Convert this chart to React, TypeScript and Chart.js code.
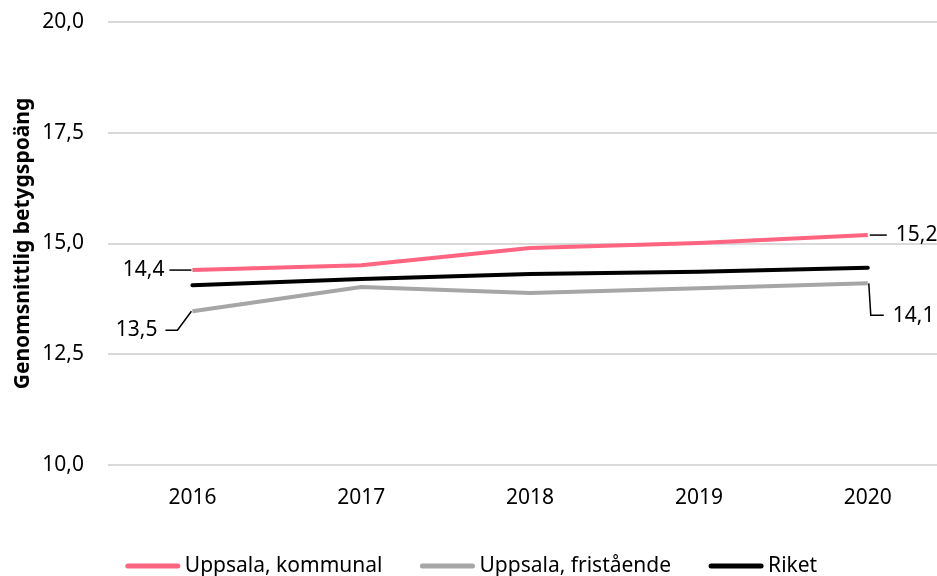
import React, { useEffect, useRef } from "react";
import { Chart, registerables } from "chart.js";

Chart.register(...registerables);

const years = [2016, 2017, 2018, 2019, 2020];
const kommunal = [14.4, 14.51, 14.9, 15.01, 15.19];
const fristaende = [13.47, 14.02, 13.88, 13.99, 14.1];
const riket = [14.06, 14.2, 14.31, 14.36, 14.45];
const seriesNames = ["Uppsala, kommunal", "Uppsala, fristående", "Riket"];
const seriesColors = ["#FF6480", "#A6A6A6", "#000000"];
const yTicks = [10, 12.5, 15, 17.5, 20];
const yTitle = "Genomsnittlig betygspoäng";

const FONT = "'Noto Sans', sans-serif";
const FS = 21;
const fmt = (v: number) => v.toFixed(1).replace(".", ",");

const gridPlugin = {
  id: "fullGrid",
  beforeDatasetsDraw(chart: any) {
    const ctx = chart.ctx;
    const ys = chart.scales.y;
    const left = chart.chartArea.left;
    ctx.save();
    ctx.strokeStyle = "#D9D9D9";
    ctx.lineWidth = 2;
    yTicks.forEach((v) => {
      const py = Math.round(ys.getPixelForValue(v));
      ctx.beginPath();
      ctx.moveTo(left, py);
      ctx.lineTo(chart.width, py);
      ctx.stroke();
    });
    ctx.restore();
  },
};

const labelPlugin = {
  id: "endLabels",
  afterDatasetsDraw(chart: any) {
    const ctx = chart.ctx;
    ctx.save();
    ctx.font = `${FS}px ${FONT}`;
    ctx.fillStyle = "#000";
    ctx.strokeStyle = "#000";
    ctx.lineWidth = 1.5;
    ctx.textBaseline = "middle";
    const m0 = chart.getDatasetMeta(0).data;
    const m1 = chart.getDatasetMeta(1).data;
    const last = years.length - 1;
    {
      const p = m0[0];
      ctx.beginPath();
      ctx.moveTo(p.x - 23, p.y);
      ctx.lineTo(p.x - 1, p.y);
      ctx.stroke();
      ctx.textAlign = "right";
      ctx.fillText(fmt(kommunal[0]), p.x - 28, p.y);
    }
    {
      const p = m1[0];
      ctx.beginPath();
      ctx.moveTo(p.x - 1, p.y);
      ctx.lineTo(p.x - 15, p.y + 19);
      ctx.lineTo(p.x - 27, p.y + 19);
      ctx.stroke();
      ctx.textAlign = "right";
      ctx.fillText(fmt(fristaende[0]), p.x - 35, p.y + 19);
    }
    {
      const p = m0[last];
      ctx.beginPath();
      ctx.moveTo(p.x + 2, p.y);
      ctx.lineTo(p.x + 19, p.y);
      ctx.stroke();
      ctx.textAlign = "left";
      ctx.fillText(fmt(kommunal[last]), p.x + 28, p.y);
    }
    {
      const p = m1[last];
      ctx.beginPath();
      ctx.moveTo(p.x + 1, p.y);
      ctx.lineTo(p.x + 3, p.y + 32);
      ctx.lineTo(p.x + 16, p.y + 32);
      ctx.stroke();
      ctx.textAlign = "left";
      ctx.fillText(fmt(fristaende[last]), p.x + 25, p.y + 33);
    }
    ctx.restore();
  },
};

const legendPlugin = {
  id: "customLegend",
  afterDraw(chart: any) {
    const ctx = chart.ctx;
    ctx.save();
    ctx.font = `${FS}px ${FONT}`;
    const sw = 54;
    const gapText = 5;
    const gapItem = 38;
    const widths = seriesNames.map((n) => sw + gapText + ctx.measureText(n).width);
    const total = widths.reduce((a, b) => a + b, 0) + gapItem * (widths.length - 1);
    let x = chart.width / 2 + 3 - total / 2;
    const y = 566;
    seriesNames.forEach((n, i) => {
      ctx.strokeStyle = seriesColors[i];
      ctx.lineWidth = 5;
      ctx.lineCap = "round";
      ctx.beginPath();
      ctx.moveTo(x + 2, y);
      ctx.lineTo(x + sw - 2, y);
      ctx.stroke();
      ctx.fillStyle = "#000";
      ctx.textAlign = "left";
      ctx.textBaseline = "middle";
      ctx.fillText(n, x + sw + gapText, y);
      x += widths[i] + gapItem;
    });
    ctx.restore();
  },
};

export default function App() {
  const ref = useRef<HTMLCanvasElement>(null);
  useEffect(() => {
    if (!ref.current) return;
    const mk = (vals: number[]) => years.map((y, i) => ({ x: y, y: vals[i] }));
    const chart = new Chart(ref.current, {
      type: "line",
      data: {
        datasets: [kommunal, fristaende, riket].map((vals, i) => ({
          label: seriesNames[i],
          data: mk(vals),
          borderColor: seriesColors[i],
          backgroundColor: seriesColors[i],
          borderWidth: 4,
          pointRadius: 0,
          borderCapStyle: i === 2 ? "round" : "butt",
          tension: 0,
          clip: false,
        })),
      },
      options: {
        animation: false,
        responsive: true,
        maintainAspectRatio: false,
        layout: { padding: { top: 22, bottom: 61, left: 0, right: 0 } },
        plugins: { legend: { display: false }, tooltip: { enabled: false } },
        scales: {
          x: {
            type: "linear",
            min: 2015.5,
            max: 2020.41,
            afterBuildTicks: (s: any) => {
              s.ticks = years.map((v) => ({ value: v }));
            },
            afterFit: (s: any) => {
              s.height = 50;
              s.paddingLeft = 0;
              s.paddingRight = 0;
            },
            grid: { display: false, drawTicks: false },
            border: { display: false },
            ticks: {
              color: "#000",
              font: { family: FONT, size: FS },
              padding: 20,
              maxRotation: 0,
              callback: (v: any) => String(v),
            },
          },
          y: {
            min: 10,
            max: 20,
            afterBuildTicks: (s: any) => {
              s.ticks = yTicks.map((v) => ({ value: v }));
            },
            afterFit: (s: any) => {
              s.width = 108;
              s.paddingTop = 0;
              s.paddingBottom = 0;
            },
            grid: { display: false, drawTicks: false },
            border: { display: false },
            ticks: {
              color: "#000",
              font: { family: FONT, size: FS },
              padding: 24,
              callback: (v: any) => fmt(Number(v)),
            },
            title: {
              display: true,
              text: yTitle,
              color: "#000",
              font: { family: FONT, size: FS, weight: "bold" },
              padding: { top: 10, bottom: 0 },
            },
          },
        },
      },
      plugins: [gridPlugin, labelPlugin, legendPlugin],
    } as any);
    return () => chart.destroy();
  }, []);
  return (
    <div style={{ position: "fixed", left: 0, top: 0, width: 937, height: 576, overflow: "hidden", background: "#fff" }}>
      <canvas ref={ref} />
    </div>
  );
}
